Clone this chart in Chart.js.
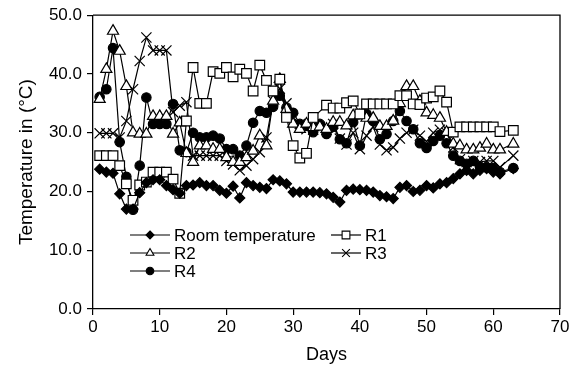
<!DOCTYPE html>
<html>
<head>
<meta charset="utf-8">
<script src="https://cdn.jsdelivr.net/npm/chart.js@4"></script>
<style>
  html, body { margin: 0; padding: 0; background: #fff; }
  #wrap { width: 580px; height: 373px; }
</style>
</head>
<body>
<div id="wrap"><canvas id="c" width="580" height="373"></canvas></div>
<script>
const days = [1,2,3,4,5,6,7,8,9,10,11,12,13,14,15,16,17,18,19,20,21,22,23,24,25,26,27,28,29,30,31,32,33,34,35,36,37,38,39,40,41,42,43,44,45,46,47,48,49,50,51,52,53,54,55,56,57,58,59,60,61,62,63];

const roomTemp = [23.8,23.3,23.1,19.6,17.0,17.0,19.8,21.5,22.0,22.0,21.0,20.3,19.7,21.0,21.1,21.5,21.0,21.0,20.2,19.7,20.9,18.9,21.5,21.0,20.7,20.5,22.0,21.8,21.3,19.9,19.9,19.9,19.9,19.8,19.6,19.0,18.2,20.2,20.4,20.3,20.2,19.9,19.3,19.1,18.8,20.7,21.0,20.0,20.2,21.0,20.6,21.3,21.5,22.2,23.0,23.6,23.0,23.6,23.9,23.3,23.0,null,23.9];

const r1 = [26.1,26.1,26.1,24.4,21.3,18.5,21.1,21.6,23.3,23.3,23.3,22.1,19.7,32.0,41.1,35.0,35.0,40.4,40.1,41.1,39.5,40.8,40.1,37.1,41.5,38.9,37.1,39.1,32.6,27.8,25.7,26.5,32.6,null,34.7,34.2,34.2,35.1,35.4,33.2,34.9,34.9,34.9,34.9,34.9,36.3,36.3,34.9,34.8,35.9,36.1,37.1,35.2,30.1,31.0,31.0,31.0,31.0,31.0,31.0,30.2,null,30.4];

const r2 = [35.7,40.8,47.3,43.9,37.9,30.0,29.8,29.8,32.8,32.8,32.8,29.8,31.7,26.5,25.0,27.8,27.8,27.2,27.2,25.8,25.0,25.0,25.8,26.9,29.5,27.8,35.4,39.1,34.0,31.5,30.6,31.5,30.9,31.0,30.6,31.8,31.8,31.2,32.9,32.9,32.5,32.5,31.1,31.1,32.0,35.0,37.9,37.9,35.4,33.4,33.0,32.5,30.1,28.1,27.8,27.1,27.1,27.4,28.1,27.1,27.1,null,28.1];

const r3 = [29.9,29.9,29.9,29.2,32.0,37.4,42.2,46.2,44.0,44.0,44.0,33.5,34.6,35.2,26.1,26.1,26.1,26.1,26.1,25.2,24.6,23.6,24.4,25.5,26.7,29.2,35.4,37.5,35.0,32.5,31.5,30.6,30.5,31.0,30.5,31.5,29.0,28.0,30.0,27.2,29.5,31.0,28.0,27.0,27.5,29.0,30.0,30.5,29.5,28.5,30.0,30.5,30.0,27.5,25.5,25.0,25.2,25.0,25.2,25.2,24.1,null,26.1];

const r4 = [36.1,37.4,44.4,28.4,22.5,16.9,24.4,36.0,31.5,31.5,31.5,34.9,27.0,26.7,30.0,29.2,29.2,29.5,29.0,27.2,27.2,26.1,27.8,31.7,33.7,33.4,34.4,36.3,34.3,33.4,31.5,31.2,30.1,31.5,29.8,31.0,28.9,28.2,31.8,27.8,33.2,32.0,28.9,29.8,32.0,33.7,32.0,30.6,28.2,27.4,28.6,29.5,28.2,26.1,25.2,24.7,25.2,24.2,24.1,24.0,23.3,null,24.0];

const seriesNames = ['Room temperature','R1','R2','R3','R4'];
const xTicks = [0,10,20,30,40,50,60,70];
const yTicks = [0,10,20,30,40,50];

const FONT = "'Liberation Sans', Arial, sans-serif";

function pts(vals) { return days.map((d, i) => ({ x: d, y: vals[i] })); }

const styles = [
  { pointStyle: 'rectRot', radius: 5, fill: '#000', legendR: 4 },
  { pointStyle: 'rect', radius: 6.8, fill: '#fff', legendR: 5.5 },
  { pointStyle: 'triangle', radius: 6.4, fill: '#fff', legendR: 4.5 },
  { pointStyle: 'crossRot', radius: 7.2, fill: '#fff', legendR: 5.5 },
  { pointStyle: 'circle', radius: 4.7, fill: '#000', legendR: 3.8 }
];
const allVals = [roomTemp, r1, r2, r3, r4];

const datasets = allVals.map((v, i) => ({
  label: seriesNames[i],
  data: pts(v),
  borderColor: '#000',
  borderWidth: 1.2,
  backgroundColor: styles[i].fill,
  pointStyle: styles[i].pointStyle,
  pointRadius: styles[i].radius,
  pointHoverRadius: styles[i].radius,
  pointBackgroundColor: styles[i].fill,
  pointBorderColor: '#000',
  pointBorderWidth: 1.2,
  tension: 0,
  spanGaps: true,
  fill: false
}));

function drawMarker(ctx, style, x, y, r, fill) {
  ctx.save();
  ctx.fillStyle = fill;
  ctx.strokeStyle = '#000';
  ctx.lineWidth = 1.1;
  ctx.beginPath();
  if (style === 'rectRot') {
    ctx.moveTo(x, y - r); ctx.lineTo(x + r, y); ctx.lineTo(x, y + r); ctx.lineTo(x - r, y); ctx.closePath();
    ctx.fill(); ctx.stroke();
  } else if (style === 'rect') {
    const s = r * Math.SQRT1_2;
    ctx.rect(x - s, y - s, 2 * s, 2 * s); ctx.fill(); ctx.stroke();
  } else if (style === 'triangle') {
    ctx.moveTo(x, y - r);
    ctx.lineTo(x + r * 0.866, y + r * 0.5);
    ctx.lineTo(x - r * 0.866, y + r * 0.5);
    ctx.closePath(); ctx.fill(); ctx.stroke();
  } else if (style === 'crossRot') {
    const s = r * Math.SQRT1_2;
    ctx.moveTo(x - s, y - s); ctx.lineTo(x + s, y + s);
    ctx.moveTo(x + s, y - s); ctx.lineTo(x - s, y + s);
    ctx.stroke();
  } else if (style === 'circle') {
    ctx.arc(x, y, r, 0, Math.PI * 2); ctx.fill(); ctx.stroke();
  }
  ctx.restore();
}

const framePlugin = {
  id: 'frame',
  afterDraw(chart) {
    const { ctx, chartArea } = chart;
    ctx.save();
    ctx.strokeStyle = '#000';
    ctx.lineWidth = 1.3;
    ctx.beginPath();
    ctx.moveTo(chartArea.left, chartArea.top);
    ctx.lineTo(chartArea.right, chartArea.top);
    ctx.lineTo(chartArea.right, chartArea.bottom);
    ctx.stroke();
    ctx.restore();
  }
};

const legendPlugin = {
  id: 'inlineLegend',
  afterDraw(chart) {
    const ctx = chart.ctx;
    const slots = [
      { x0: 130, x1: 170, y: 235 },
      { x0: 331, x1: 361, y: 235 },
      { x0: 130, x1: 170, y: 253 },
      { x0: 331, x1: 361, y: 253 },
      { x0: 130, x1: 170, y: 271 }
    ];
    ctx.save();
    ctx.font = "17px " + FONT;
    ctx.textBaseline = 'middle';
    ctx.textAlign = 'left';
    chart.data.datasets.forEach((ds, i) => {
      const s = slots[i];
      ctx.strokeStyle = '#000';
      ctx.lineWidth = 1.2;
      ctx.beginPath();
      ctx.moveTo(s.x0, s.y); ctx.lineTo(s.x1, s.y); ctx.stroke();
      drawMarker(ctx, styles[i].pointStyle, (s.x0 + s.x1) / 2, s.y, styles[i].legendR, styles[i].fill);
      ctx.fillStyle = '#000';
      ctx.fillText(ds.label, s.x1 + 4, s.y + 1);
    });
    ctx.restore();
  }
};

new Chart(document.getElementById('c'), {
  type: 'line',
  data: { datasets },
  plugins: [framePlugin, legendPlugin],
  options: {
    responsive: false,
    devicePixelRatio: 1,
    animation: false,
    layout: { padding: { top: 14, right: 20, left: 0, bottom: 0 } },
    plugins: { legend: { display: false }, tooltip: { enabled: false } },
    scales: {
      x: {
        type: 'linear',
        min: 0, max: 70,
        afterBuildTicks(scale) { scale.ticks = xTicks.map(v => ({ value: v })); },
        afterFit(scale) { scale.height = 64; },
        ticks: { color: '#000', padding: 2, font: { family: FONT, size: 17 } },
        grid: { drawOnChartArea: false, drawTicks: true, tickLength: 6, color: '#000', lineWidth: 1.2 },
        border: { display: true, color: '#000', width: 1.3 },
        title: { display: true, text: 'Days', color: '#000', font: { family: FONT, size: 18 }, padding: { top: 4, bottom: 7 } }
      },
      y: {
        min: 0, max: 50,
        afterBuildTicks(scale) { scale.ticks = yTicks.map(v => ({ value: v })); },
        afterFit(scale) { scale.width = 93; },
        ticks: { color: '#000', padding: 5, font: { family: FONT, size: 17 }, callback: v => Number(v).toFixed(1) },
        grid: { drawOnChartArea: false, drawTicks: true, tickLength: 6, color: '#000', lineWidth: 1.2 },
        border: { display: true, color: '#000', width: 1.3 },
        title: { display: true, text: 'Temperature in (°C)', color: '#000', font: { family: FONT, size: 19 }, padding: { top: 15, bottom: 4 } }
      }
    }
  }
});
</script>
</body>
</html>
